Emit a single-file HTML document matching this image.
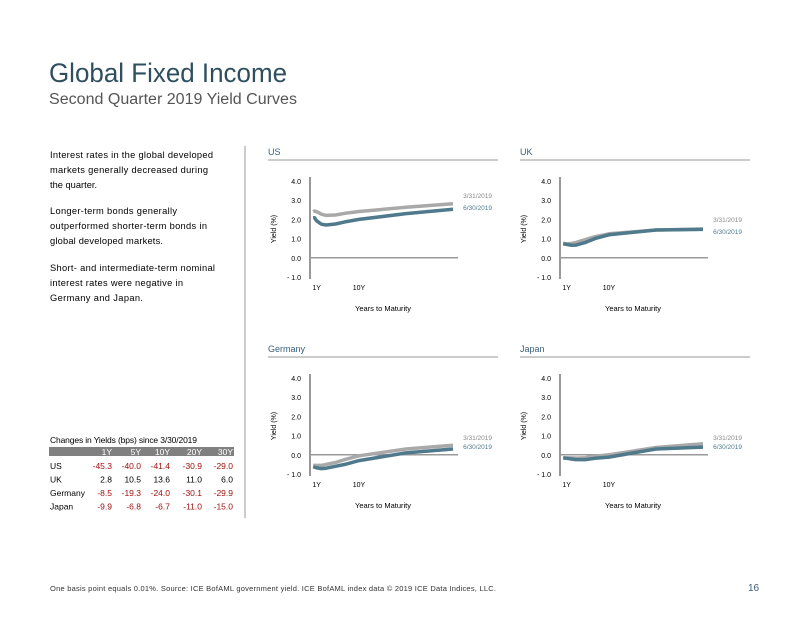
<!DOCTYPE html>
<html><head><meta charset="utf-8"><style>
body{margin:0;background:#fff;font-family:"Liberation Sans",sans-serif}
svg text{font-family:"Liberation Sans",sans-serif}
</style></head><body>
<svg id="s" width="792" height="612" viewBox="0 0 792 612" xmlns="http://www.w3.org/2000/svg">
<text x="49" y="82" font-size="26.5" fill="#2f4f5f" textLength="238" lengthAdjust="spacingAndGlyphs">Global Fixed Income</text>
<text x="49" y="104" font-size="15.5" fill="#555" textLength="248" lengthAdjust="spacingAndGlyphs">Second Quarter 2019 Yield Curves</text>
<g font-size="9.3" fill="#000">
<text x="50" y="158" textLength="163" lengthAdjust="spacing">Interest rates in the global developed</text>
<text x="50" y="173" textLength="158" lengthAdjust="spacing">markets generally decreased during</text>
<text x="50" y="188">the quarter.</text>
<text x="50" y="214" textLength="127" lengthAdjust="spacing">Longer-term bonds generally</text>
<text x="50" y="229" textLength="157" lengthAdjust="spacing">outperformed shorter-term bonds in</text>
<text x="50" y="244" textLength="113" lengthAdjust="spacing">global developed markets.</text>
<text x="50" y="271" textLength="165" lengthAdjust="spacing">Short- and intermediate-term nominal</text>
<text x="50" y="286" textLength="133" lengthAdjust="spacing">interest rates were negative in</text>
<text x="50" y="301" textLength="93" lengthAdjust="spacing">Germany and Japan.</text>
</g>
<line x1="245" y1="146" x2="245" y2="518" stroke="#999" stroke-width="1"/>
<g font-size="8.5">
<text x="50" y="443" fill="#000" textLength="147" lengthAdjust="spacing">Changes in Yields (bps) since 3/30/2019</text>
<rect x="49" y="447" width="185" height="9" fill="#808080"/>
<g fill="#fff" text-anchor="end"><text x="112" y="455">1Y</text><text x="141" y="455">5Y</text><text x="170" y="455">10Y</text><text x="202" y="455">20Y</text><text x="233" y="455">30Y</text></g>
<g id="tbl"></g>
</g>
<text x="50" y="591" font-size="7.5" fill="#333" textLength="446" lengthAdjust="spacing">One basis point equals 0.01%. Source: ICE BofAML government yield. ICE BofAML index data © 2019 ICE Data Indices, LLC.</text>
<text x="748" y="591" font-size="10" fill="#3a5f7a">16</text>
<g id="charts"></g>
</svg>
<script>
const maturities=[0.25,0.5,1,2,3,5,7,10,20,30];
const yTicks=[4,3,2,1,0,-1];
const usMar=[2.4,2.44,2.4,2.27,2.21,2.23,2.32,2.41,2.63,2.82];
const usJun=[2.08,2.09,1.92,1.75,1.71,1.76,1.87,2.0,2.3,2.53];
const ukMar=[0.75,0.75,0.72,0.75,0.8,0.95,1.1,1.25,1.45,1.5];
const ukJun=[0.73,0.72,0.7,0.65,0.66,0.8,1.0,1.2,1.45,1.48];
const deMar=[-0.55,-0.55,-0.55,-0.55,-0.5,-0.4,-0.25,-0.05,0.3,0.5];
const deJun=[-0.62,-0.64,-0.68,-0.72,-0.7,-0.6,-0.5,-0.3,0.1,0.3];
const jpMar=[-0.2,-0.18,-0.16,-0.16,-0.17,-0.15,-0.08,0.0,0.38,0.58];
const jpJun=[-0.15,-0.16,-0.18,-0.22,-0.25,-0.25,-0.18,-0.12,0.3,0.4];
const tblCountries=["US","UK","Germany","Japan"];
const tblValues=[[-45.3,-40.0,-41.4,-30.9,-29.0],[2.8,10.5,13.6,11.0,6.0],[-8.5,-19.3,-24.0,-30.1,-29.9],[-9.9,-6.8,-6.7,-11.0,-15.0]];
const NS="http://www.w3.org/2000/svg";
function mk(tag,attrs,parent){const e=document.createElementNS(NS,tag);for(const k in attrs)e.setAttribute(k,attrs[k]);parent.appendChild(e);return e;}
const tbl=document.getElementById('tbl');
const colX=[112,141,170,202,233];
tblCountries.forEach((c,i)=>{
  const y=469+i*13.5;
  const t=mk('text',{x:50,y:y,fill:'#000'},tbl);t.textContent=c;
  
  
  tblValues[i].forEach((v,j)=>{
    const c2=mk('text',{x:colX[j],y:y,'text-anchor':'end',fill:v<0?'#a01010':'#000'},tbl);
    c2.textContent=v.toFixed(1);
    
    
  });
});
const charts=[
 {name:'us',title:'US',tx:268,ax:310,top:181,mar:usMar,jun:usJun,lab:[198,210]},
 {name:'uk',title:'UK',tx:520,ax:560,top:181,mar:ukMar,jun:ukJun,lab:[222,234]},
 {name:'germany',title:'Germany',tx:268,ax:310,top:378,mar:deMar,jun:deJun,lab:[440,449]},
 {name:'japan',title:'Japan',tx:520,ax:560,top:378,mar:jpMar,jun:jpJun,lab:[440,449]}
];
const root=document.getElementById('charts');
charts.forEach(c=>{
  const g=mk('g',{},root);
  
  
  const step=19.2;
  const y=v=>c.top+(4-v)*step;
  const x=m=>c.ax+2+m*4.7;
  const tt=mk('text',{x:c.tx,y:c.top-26,'font-size':9,fill:'#3a5f7a'},g);tt.textContent=c.title;
  
  
  mk('line',{x1:c.tx,y1:c.top-21,x2:c.tx+230,y2:c.top-21,stroke:'#999','stroke-width':1},g);
  mk('line',{x1:c.ax,y1:c.top-4,x2:c.ax,y2:y(-1)+2,stroke:'#999','stroke-width':2},g);
  mk('line',{x1:c.ax,y1:y(0),x2:c.ax+148,y2:y(0),stroke:'#999','stroke-width':1.5},g);
  yTicks.forEach(v=>{const t=mk('text',{x:c.ax-9,y:y(v)+3,'text-anchor':'end','font-size':7,fill:'#000'},g);t.textContent=(v<0?'- ':'')+Math.abs(v).toFixed(1);
    
    });
  [['1Y',1],['10Y',10]].forEach(([l,m])=>{const t=mk('text',{x:x(m),y:y(-1)+13,'text-anchor':'middle','font-size':7,fill:'#000'},g);t.textContent=l;
    
    });
  const yl=mk('text',{x:0,y:0,'font-size':7,'text-anchor':'middle',transform:`translate(${c.ax-34},${y(1.5)}) rotate(-90)`},g);yl.textContent='Yield (%)';
  
  
  const xl=mk('text',{x:c.ax+73,y:y(-1)+34,'font-size':7.5,'text-anchor':'middle'},g);xl.textContent='Years to Maturity';
  
  
  const pts=a=>a.map((v,i)=>x(maturities[i]).toFixed(1)+','+y(v).toFixed(1)).join(' ');
  const l1=mk('polyline',{points:pts(c.mar),fill:'none',stroke:'#a9a9a9','stroke-width':3.5,'stroke-linejoin':'round'},g);
  
  
  const l2=mk('polyline',{points:pts(c.jun),fill:'none',stroke:'#4f7a8c','stroke-width':3.5,'stroke-linejoin':'round'},g);
  
  
  const a=mk('text',{x:c.ax+182,y:c.lab[0],'font-size':6.5,'text-anchor':'end',fill:'#888'},g);a.textContent='3/31/2019';
  
  
  const b=mk('text',{x:c.ax+182,y:c.lab[1],'font-size':6.5,'text-anchor':'end',fill:'#4f7a8c'},g);b.textContent='6/30/2019';
  
  
});
</script>
</body></html>
